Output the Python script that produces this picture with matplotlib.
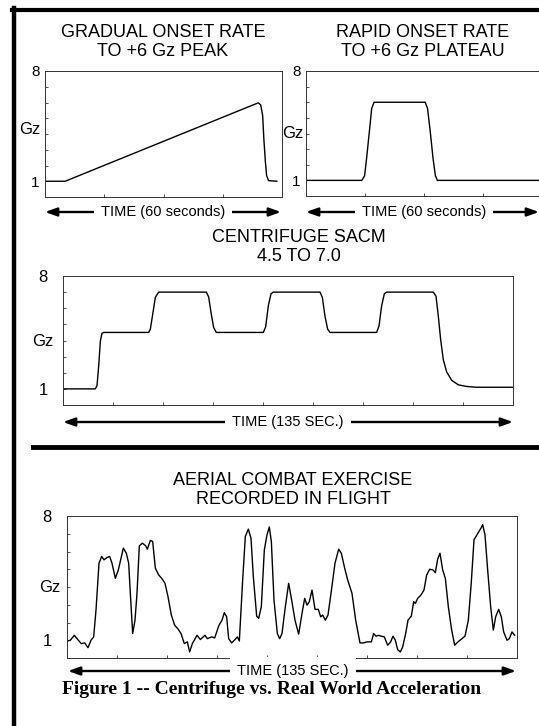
import matplotlib
import matplotlib.pyplot as plt
from matplotlib.lines import Line2D
from matplotlib.patches import FancyArrowPatch

matplotlib.use('agg')
plt.rcParams['font.family'] = ['Liberation Sans', 'DejaVu Sans']

W, H = 539, 726

# gradual onset to +6 Gz peak (seconds, Gz)
gradual_t = [0, 5.1, 54.0, 54.6, 55.1, 55.4, 55.8, 56.1, 56.6, 58.7]
gradual_gz = [1.0, 1.0, 5.98, 5.85, 5.18, 3.7, 2.21, 1.36, 1.04, 1.0]

# rapid onset to +6 Gz plateau
rapid_t = [0, 14.2, 14.9, 15.4, 16.1, 16.7, 17.3, 30.3, 30.9, 31.6, 32.3, 32.9, 33.4, 60]
rapid_gz = [1.0, 1.0, 1.3, 2.4, 4.1, 5.6, 6.0, 6.0, 5.6, 4.1, 2.4, 1.3, 1.0, 1.0]

# centrifuge SACM 4.5 to 7.0
sacm_t = [0, 9.7, 10.2, 10.7, 11.2, 11.7, 12.2, 25.7, 26.2, 27.0, 27.7, 28.7,
          43.0, 43.7, 44.4, 45.2, 46.0, 60.1, 60.8, 61.6, 62.4, 63.1,
          77.1, 77.8, 78.6, 79.4, 80.1, 94.1, 94.8, 95.6, 96.4, 97.1,
          111.1, 111.9, 112.6, 113.3, 114.1, 115.1, 116.6, 118.6, 121.1, 124.1, 135]
sacm_gz = [1.0, 1.0, 1.2, 2.4, 3.95, 4.45, 4.5, 4.5, 4.7, 5.74, 6.68, 7.0,
           7.0, 6.7, 5.74, 4.8, 4.5, 4.5, 4.85, 6.16, 6.9, 7.0,
           7.0, 6.68, 5.5, 4.7, 4.5, 4.5, 4.9, 6.16, 6.9, 7.0,
           7.0, 6.75, 5.5, 4.05, 2.8, 2.05, 1.53, 1.25, 1.15, 1.1, 1.1]

# aerial combat exercise recorded in flight
combat_t = [0, 1.0, 2.2, 3.4, 4.3, 5.3, 6.3, 7.2, 8.0, 8.7, 9.6, 10.4, 11.1, 12.0,
            12.8, 13.5, 14.5, 15.4, 16.9, 17.8, 18.5, 19.0, 19.7, 20.4, 21.0, 21.7,
            22.6, 23.6, 24.1, 25.0, 25.7, 26.5, 27.5, 28.4, 29.4, 30.3, 31.3, 32.3,
            33.2, 34.2, 35.2, 36.1, 36.8, 37.6, 39.0, 40.0, 41.4, 42.1, 43.4, 44.3,
            45.6, 46.5, 47.2, 47.9, 48.5, 49.4, 50.4, 51.1, 51.7, 52.7, 53.5, 54.4,
            55.2, 55.9, 56.9, 57.5, 58.3, 59.2, 60.0, 60.7, 61.3, 62.1, 63.1, 63.8,
            64.5, 65.5, 66.5, 67.4, 68.4, 69.5, 70.5, 71.3, 72.0, 72.7, 73.5, 74.4,
            75.4, 76.1, 76.7, 77.5, 78.3, 79.2, 80.4, 81.5, 82.3, 83.3, 84.2, 85.5,
            86.6, 87.9, 89.0, 90.0,
            91.3, 92.0, 92.7, 93.5, 94.2, 95.2, 96.2, 97.1, 97.8, 98.5, 99.2, 100.0,
            100.7, 101.6, 102.3, 103.3, 104.0, 104.5, 105.2, 106.2, 107.1, 107.9,
            108.8, 109.8, 110.5, 111.2, 111.9, 112.7, 113.5, 114.4, 115.4, 116.3,
            117.3, 118.5, 119.4, 120.4, 121.3, 122.1, 123.3, 124.2, 124.7, 125.4,
            126.2, 127.1, 127.9, 128.6, 129.5, 130.3, 131.0, 132.0, 132.7, 133.5, 134.3]
combat_gz = [0.95, 1.0, 1.28, 1.0, 0.81, 0.85, 0.58, 1.0, 1.19, 2.7, 5.34, 5.72, 5.53, 5.66,
             5.72, 5.34, 4.49, 4.96, 6.19, 5.9, 5.34, 3.64, 1.38, 2.13, 3.64, 6.32,
             6.47, 6.32, 6.13, 6.62, 6.57, 5.06, 4.68, 4.49, 4.21, 3.45, 2.42, 1.85,
             1.66, 1.38, 0.81, 0.91, 0.34, 0.81, 1.28, 1.04, 1.28, 1.09, 1.19, 1.13,
             1.85, 2.13, 2.55, 2.32, 1.09, 0.85, 1.04, 1.19, 0.96, 4.4, 6.85, 7.26,
             6.75, 4.58, 2.36, 2.23, 2.89, 6.09, 6.94, 7.38, 6.57, 3.26, 1.38, 1.09,
             1.38, 2.89, 4.21, 3.26, 2.13, 1.34, 2.51, 3.36, 2.98, 3.17, 3.83, 2.74,
             2.74, 2.32, 2.42, 2.13, 2.42, 3.64, 5.34, 6.13, 5.9, 5.06, 4.4, 3.64,
             2.13, 0.85, 0.85, 0.91,
             0.91, 1.38, 1.23, 1.28, 1.23, 1.19, 0.72, 0.91, 1.23, 1.0, 0.47, 0.34,
             0.62, 1.38, 2.13, 2.36, 3.17, 3.08, 3.36, 3.55, 3.83, 4.68,
             5.0, 4.96, 4.81, 5.57, 5.9, 4.96, 4.49, 2.89, 1.57, 0.72,
             0.91, 1.09, 1.23, 2.13, 4.3, 6.66, 7.04, 7.32, 7.51, 6.94,
             4.96, 2.89, 1.57, 2.32, 2.74, 2.32, 1.47, 1.0, 1.09, 1.47, 1.28]

fig = plt.figure(figsize=(W / 100, H / 100), dpi=100)


def fx(x):
    return x / W


def fy(y):
    return 1 - y / H


def make_axes(left, top, right, bottom, tmax, t, gz, lblpad, lblsize):
    ax = fig.add_axes([fx(left), fy(bottom), fx(right) - fx(left), fy(top) - fy(bottom)])
    ax.plot(t, gz, color='black', lw=1.0)
    ax.set_xlim(0, tmax)
    ax.set_ylim(0, 8)
    ax.set_xticks(range(0, tmax + 1, 15))
    ax.set_xticklabels([])
    ax.set_yticks(range(1, 9))
    ax.set_yticklabels(['1', '', '', '', '', '', '', '8'])
    ax.tick_params(direction='in', length=2.5, width=0.6, color='#333333')
    ax.tick_params(axis='y', pad=lblpad, labelsize=lblsize)
    for s in ax.spines.values():
        s.set_linewidth(0.7)
        s.set_color('#333333')
    return ax


make_axes(45, 71, 282, 197, 60, gradual_t, gradual_gz, 4, 11)
make_axes(306, 71, 542, 196, 60, rapid_t, rapid_gz, 4, 11)
make_axes(63, 276, 513, 405, 135, sacm_t, sacm_gz, 11, 12)
make_axes(67, 516, 517, 658, 135, combat_t, combat_gz, 11, 12)

# Gz labels
fig.text(fx(40), fy(130), 'Gz', ha='right', va='center', fontsize=12)
fig.text(fx(303), fy(133), 'Gz', ha='right', va='center', fontsize=12)
fig.text(fx(53), fy(342), 'Gz', ha='right', va='center', fontsize=12)
fig.text(fx(60), fy(587), 'Gz', ha='right', va='center', fontsize=12)

# titles
fig.text(fx(163), fy(42), 'GRADUAL ONSET RATE\nTO +6 Gz PEAK', ha='center', va='center',
         fontsize=13, linespacing=1.1)
fig.text(fx(423), fy(42), 'RAPID ONSET RATE\nTO +6 Gz PLATEAU', ha='center', va='center',
         fontsize=13, linespacing=1.1)
fig.text(fx(299), fy(247), 'CENTRIFUGE SACM\n4.5 TO 7.0', ha='center', va='center',
         fontsize=13, linespacing=1.1)
fig.text(fx(293), fy(490), 'AERIAL COMBAT EXERCISE\nRECORDED IN FLIGHT', ha='center', va='center',
         fontsize=13, linespacing=1.1)


def time_arrow(x0, x1, y, xt, label):
    arr = FancyArrowPatch((fx(x0), fy(y)), (fx(x1), fy(y)), transform=fig.transFigure,
                          arrowstyle='<|-|>,head_length=0.7,head_width=0.25',
                          mutation_scale=10, lw=1.7, color='black',
                          shrinkA=0, shrinkB=0)
    fig.add_artist(arr)
    fig.text(fx(xt), fy(y), label, ha='center', va='center', fontsize=10.5,
             bbox=dict(boxstyle='square,pad=0.5', fc='white', ec='none'))


time_arrow(45, 281, 212, 163, 'TIME (60 seconds)')
time_arrow(306, 539, 212, 424, 'TIME (60 seconds)')
time_arrow(63, 513, 422, 288, 'TIME (135 SEC.)')
time_arrow(68, 516, 671, 293, 'TIME (135 SEC.)')

# frame lines from the page
fig.add_artist(Line2D([fx(14), fx(14)], [fy(8), fy(726)], color='black', lw=3.2))
fig.add_artist(Line2D([fx(12), fx(539)], [fy(10), fy(10)], color='black', lw=3.0))
fig.add_artist(Line2D([fx(33), fx(539)], [fy(447), fy(447)], color='black', lw=3.5))

fig.text(fx(272), fy(690), 'Figure 1 -- Centrifuge vs. Real World Acceleration', ha='center',
         va='center', fontsize=14, fontweight='bold', family=['Liberation Serif', 'DejaVu Serif'])

fig.savefig('out.png', dpi=100)
